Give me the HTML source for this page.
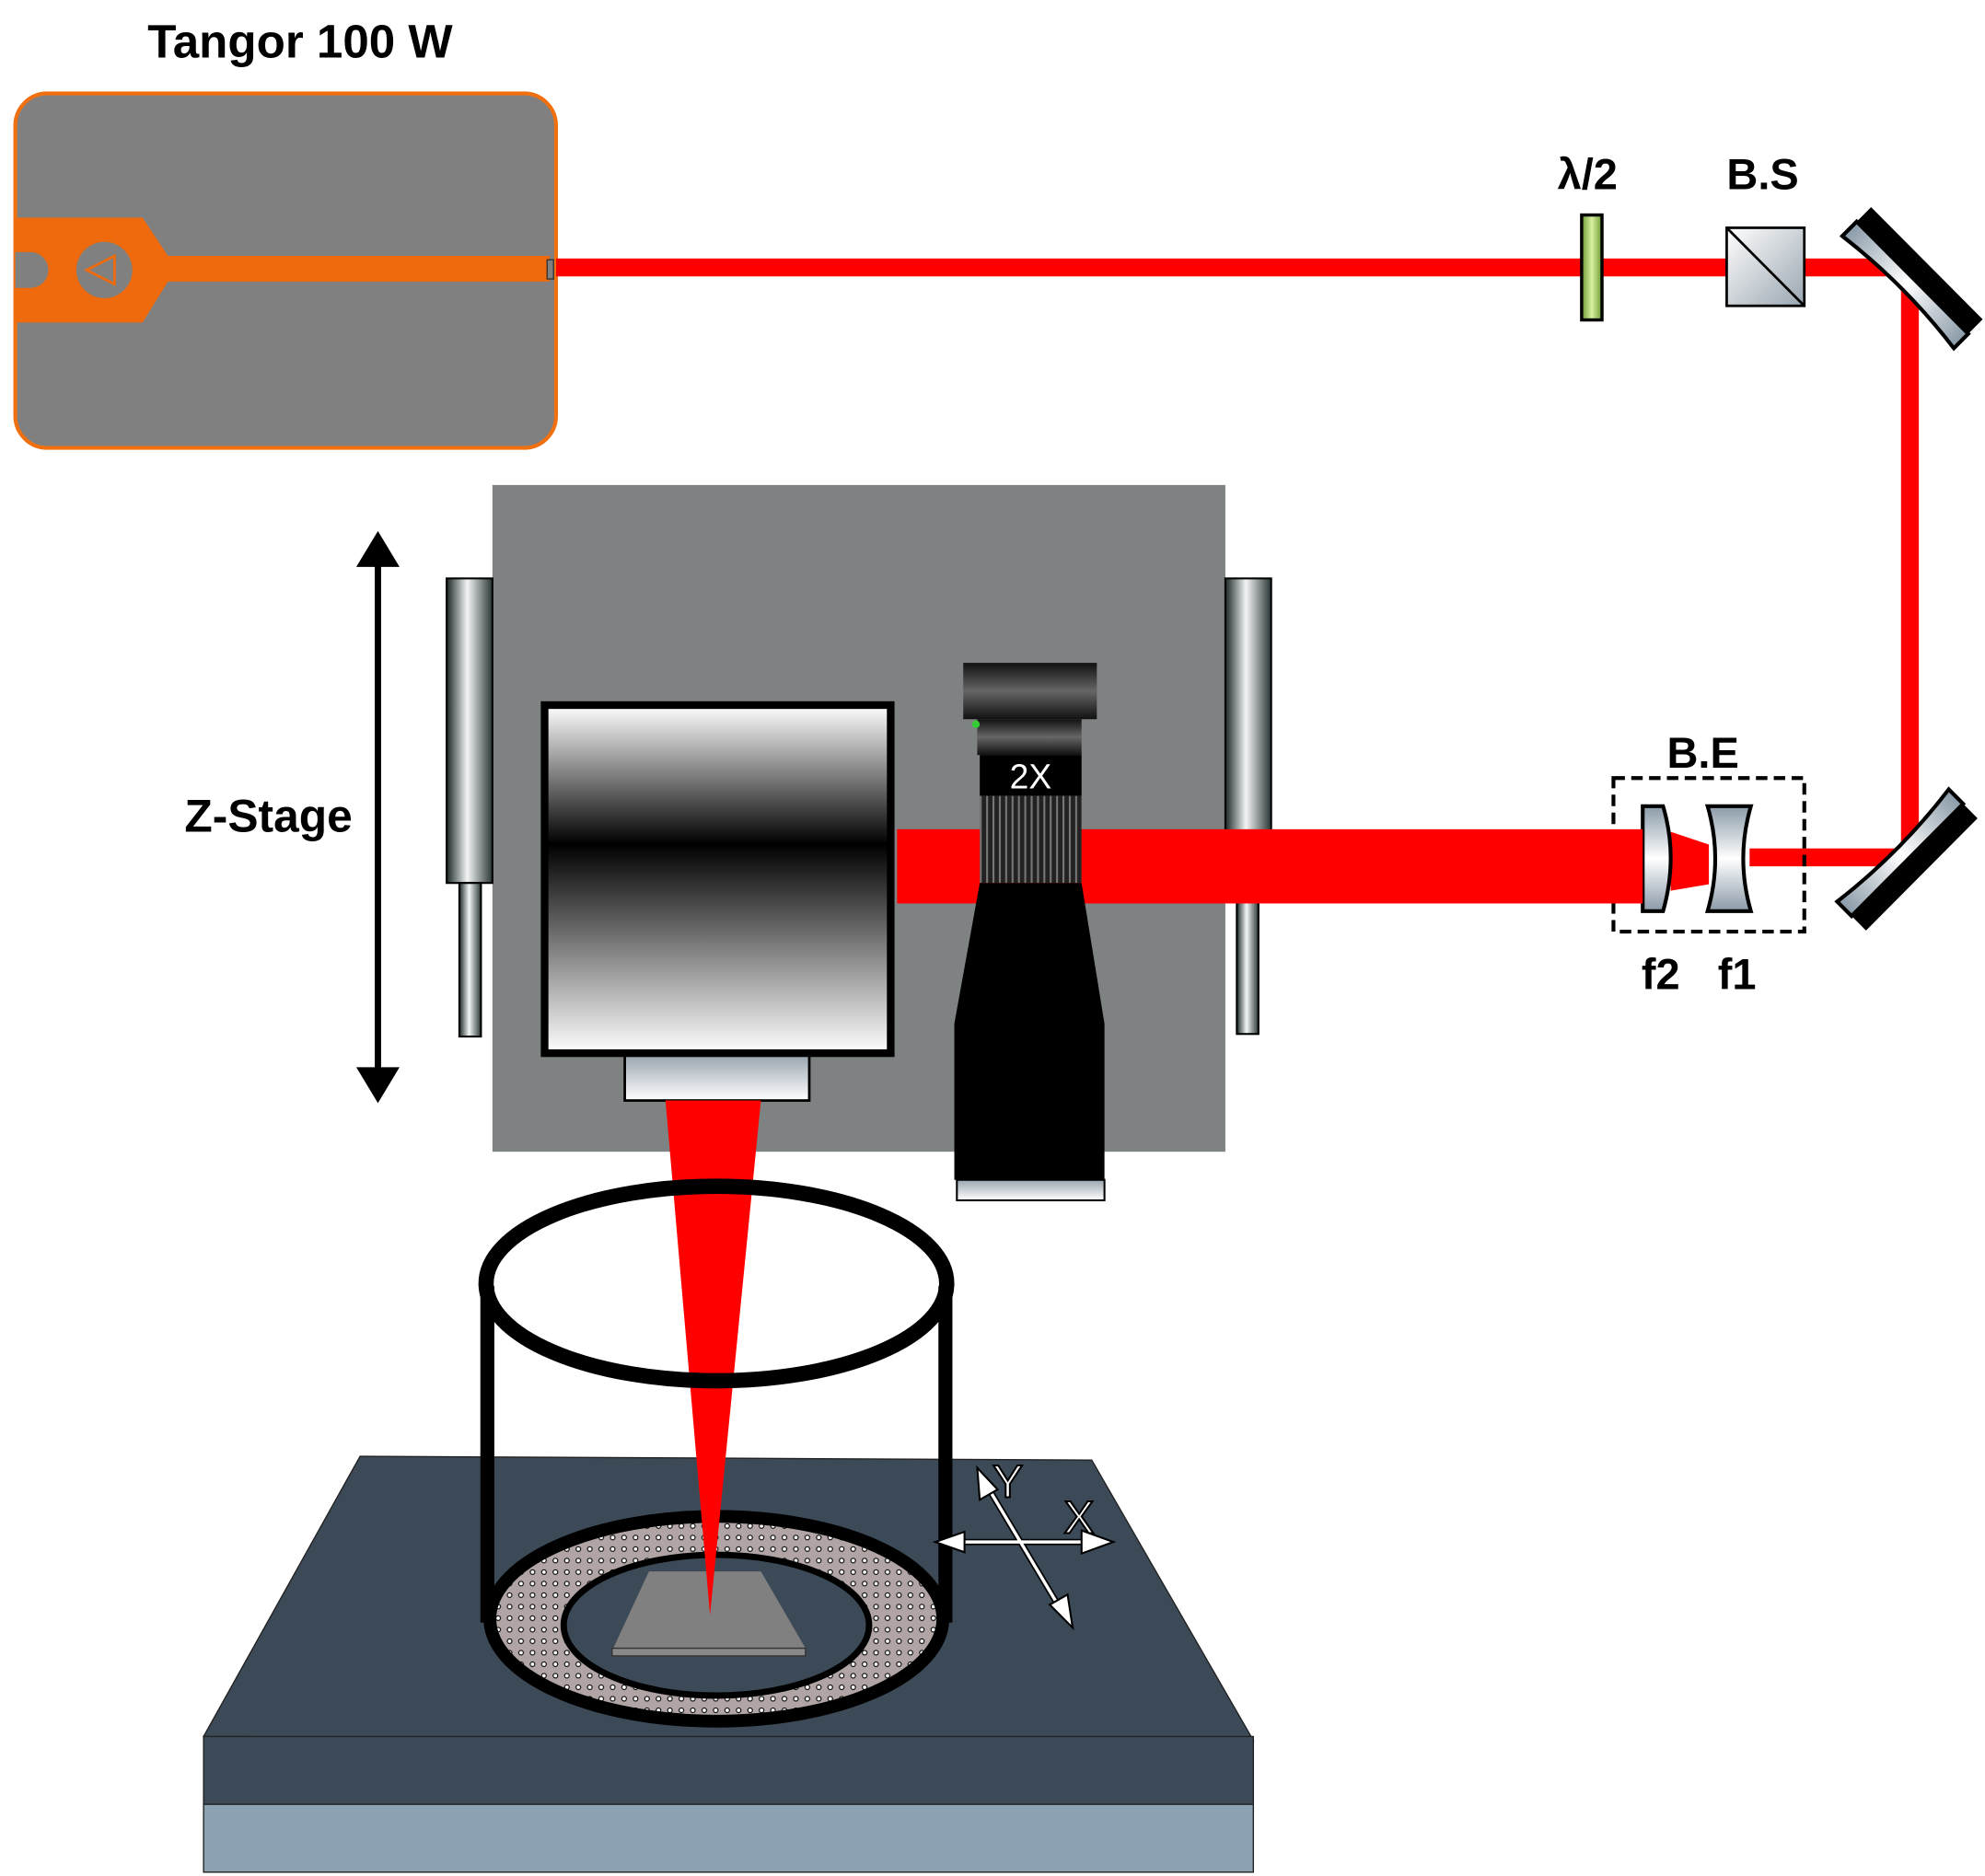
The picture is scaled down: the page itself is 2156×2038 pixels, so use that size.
<!DOCTYPE html>
<html><head><meta charset="utf-8"><style>html,body{margin:0;padding:0;background:#fff}svg{display:block}</style></head>
<body>
<svg width="2156" height="2038" viewBox="0 0 1560 1466" preserveAspectRatio="none" xmlns="http://www.w3.org/2000/svg">
<defs>
<linearGradient id="cyl" x1="0" x2="1" y1="0" y2="0"><stop offset="0" stop-color="#1a2626"/><stop offset="0.45" stop-color="#f4f6f6"/><stop offset="1" stop-color="#2a3636"/></linearGradient>
<linearGradient id="scan" x1="0" x2="0" y1="0" y2="1"><stop offset="0" stop-color="#fff"/><stop offset="0.4" stop-color="#000"/><stop offset="1" stop-color="#fff"/></linearGradient>
<linearGradient id="lensg" x1="0" x2="0" y1="0" y2="1"><stop offset="0" stop-color="#9aa6b0"/><stop offset="1" stop-color="#fff"/></linearGradient>
<linearGradient id="lensv" x1="0" x2="0" y1="0" y2="1"><stop offset="0" stop-color="#8a9aa8"/><stop offset="0.5" stop-color="#fff"/><stop offset="1" stop-color="#8a9aa8"/></linearGradient>
<linearGradient id="mir" x1="0" x2="1" y1="0" y2="0"><stop offset="0" stop-color="#8a9aa8"/><stop offset="0.5" stop-color="#fff"/><stop offset="1" stop-color="#8a9aa8"/></linearGradient>
<linearGradient id="cap" x1="0" x2="0" y1="0" y2="1"><stop offset="0" stop-color="#111"/><stop offset="0.5" stop-color="#666"/><stop offset="1" stop-color="#111"/></linearGradient>
<linearGradient id="green" x1="0" x2="1"><stop offset="0" stop-color="#6a9a30"/><stop offset="0.5" stop-color="#d8f0a0"/><stop offset="1" stop-color="#6a9a30"/></linearGradient>
<linearGradient id="bs" x1="0" x2="1" y1="0" y2="1"><stop offset="0" stop-color="#fff"/><stop offset="1" stop-color="#9aa6b0"/></linearGradient>
<pattern id="dots" width="9" height="9" patternUnits="userSpaceOnUse"><circle cx="4.5" cy="4.5" r="1.8" fill="#fff" stroke="#000" stroke-width="0.8"/></pattern>
<pattern id="knurl" width="5" height="10" patternUnits="userSpaceOnUse"><rect width="5" height="10" fill="#222"/><rect width="1.5" height="10" fill="#777"/></pattern>
</defs>

<text x="116" y="45" font-family="Liberation Sans, sans-serif" font-weight="bold" font-size="37">Tangor 100 W</text>
<rect x="12" y="73" width="425" height="277" rx="25" fill="#808080" stroke="#f07010" stroke-width="3"/>
<polygon points="12,170 112,170 132,200 432,200 432,220 132,220 112,252 12,252" fill="#ee6a0c"/>
<path d="M12,197 h12 a14,14 0 0 1 0,28 h-12 z" fill="#808080"/>
<circle cx="82" cy="211" r="22" fill="#808080"/>
<polygon points="68,211 90,200 90,222" fill="none" stroke="#ee6a0c" stroke-width="2"/>
<rect x="430" y="203" width="5" height="15" fill="#808080" stroke="#333" stroke-width="1"/>

<!-- beams -->
<rect x="437" y="202" width="1070" height="14" fill="#f00"/>
<rect x="1494" y="205" width="14" height="472" fill="#f00"/>
<rect x="1375" y="663" width="130" height="14" fill="#f00"/>
<polygon points="1313,650 1343,660 1343,691 1313,696" fill="#f00"/>

<!-- lambda/2 -->
<text x="1224" y="148" font-family="Liberation Sans, sans-serif" font-weight="bold" font-size="34">λ/2</text>
<rect x="1243" y="168" width="16" height="82" fill="url(#green)" stroke="#000" stroke-width="2.5"/>
<text x="1357" y="148" font-family="Liberation Sans, sans-serif" font-weight="bold" font-size="34">B.S</text>
<rect x="1357" y="178" width="61" height="61" fill="url(#bs)" stroke="#000" stroke-width="2"/>
<line x1="1357" y1="178" x2="1418" y2="239" stroke="#000" stroke-width="2"/>

<!-- mirrors -->
<g transform="translate(1503,217) rotate(45)">
<rect x="-62" y="-16" width="124" height="18" fill="#000"/>
<path d="M-62,0 L62,0 L62,16 Q0,8 -62,16 Z" fill="url(#mir)" stroke="#000" stroke-width="3"/>
</g>
<g transform="translate(1499,672) rotate(-45)">
<rect x="-62" y="-2" width="124" height="18" fill="#000"/>
<path d="M-62,0 L62,0 L62,-16 Q0,-8 -62,-16 Z" fill="url(#mir)" stroke="#000" stroke-width="3"/>
</g>

<!-- beam expander -->
<text x="1310" y="600" font-family="Liberation Sans, sans-serif" font-weight="bold" font-size="34">B.E</text>
<rect x="1268" y="608" width="150" height="120" fill="none" stroke="#000" stroke-width="3" stroke-dasharray="9,5"/>
<path d="M1291,630 h16 q12,40 0,82 h-16 z" fill="url(#lensv)" stroke="#000" stroke-width="3"/>
<path d="M1342,630 h34 q-12,41 0,82 h-34 q12,-41 0,-82 z" fill="url(#lensv)" stroke="#000" stroke-width="3"/>
<text x="1290" y="773" font-family="Liberation Sans, sans-serif" font-weight="bold" font-size="34">f2</text>
<text x="1350" y="773" font-family="Liberation Sans, sans-serif" font-weight="bold" font-size="34">f1</text>

<!-- Z stage -->
<rect x="387" y="379" width="576" height="521" fill="#7f8282"/>
<rect x="351" y="452" width="36" height="238" fill="url(#cyl)" stroke="#000" stroke-width="1.5"/>
<rect x="361" y="690" width="17" height="120" fill="url(#cyl)" stroke="#000" stroke-width="1.5"/>
<rect x="963" y="452" width="36" height="238" fill="url(#cyl)" stroke="#000" stroke-width="1.5"/>
<rect x="972" y="690" width="17" height="118" fill="url(#cyl)" stroke="#000" stroke-width="1.5"/>
<rect x="705" y="648" width="586" height="58" fill="#f00"/>
<line x1="297" y1="440" x2="297" y2="840" stroke="#000" stroke-width="5"/>
<polygon points="297,415 280,443 314,443" fill="#000"/>
<polygon points="297,862 280,834 314,834" fill="#000"/>
<text x="145" y="650" font-family="Liberation Sans, sans-serif" font-weight="bold" font-size="36">Z-Stage</text>

<rect x="428" y="551" width="272" height="272" fill="url(#scan)" stroke="#000" stroke-width="6"/>
<rect x="491" y="825" width="145" height="35" fill="url(#lensg)" stroke="#000" stroke-width="2"/>

<!-- camera -->
<rect x="757" y="518" width="105" height="44" fill="url(#cap)"/>
<rect x="768" y="562" width="82" height="28" fill="url(#cap)"/>
<circle cx="767" cy="566" r="3" fill="#3c3"/>
<rect x="770" y="590" width="80" height="32" fill="#000"/>
<text x="810" y="616" text-anchor="middle" font-family="Liberation Sans, sans-serif" font-size="27" fill="#fff">2X</text>
<rect x="770" y="622" width="80" height="68" fill="url(#knurl)"/>
<polygon points="770,690 850,690 868,800 868,922 750,922 750,800" fill="#000"/>
<rect x="752" y="922" width="116" height="16" fill="url(#lensg)" stroke="#000" stroke-width="1.5"/>

<!-- stage -->
<polygon points="283,1138 858,1141 985,1360 160,1357" fill="#3c4a58" stroke="#222" stroke-width="1"/>
<rect x="160" y="1357" width="825" height="53" fill="#3c4a58" stroke="#222" stroke-width="1"/>
<rect x="160" y="1410" width="825" height="53" fill="#8aa2b2" stroke="#222" stroke-width="1"/>

<!-- beaker -->
<ellipse cx="563" cy="1265" rx="176" ry="77" fill="#b0a4a4"/>
<ellipse cx="563" cy="1265" rx="176" ry="77" fill="url(#dots)"/>
<ellipse cx="563" cy="1270" rx="120" ry="55" fill="#3c4a58" stroke="#000" stroke-width="5"/>
<polygon points="510,1228 598,1228 633,1288 482,1288" fill="#808080"/>
<rect x="481" y="1288" width="152" height="6" fill="#888" stroke="#333" stroke-width="1"/>
<ellipse cx="563" cy="1265" rx="178" ry="80" fill="none" stroke="#000" stroke-width="10"/>
<polygon points="523,860 598,860 558,1262" fill="#f00"/>
<line x1="383" y1="1005" x2="383" y2="1268" stroke="#000" stroke-width="11"/>
<line x1="743" y1="1005" x2="743" y2="1268" stroke="#000" stroke-width="11"/>
<ellipse cx="563" cy="1003" rx="181" ry="76" fill="none" stroke="#000" stroke-width="12"/>

<!-- axes -->
<g stroke="#000" stroke-width="5"><line x1="745" y1="1205" x2="860" y2="1205"/><line x1="775" y1="1160" x2="835" y2="1260"/></g>
<g stroke="#fff" stroke-width="2.5"><line x1="745" y1="1205" x2="860" y2="1205"/><line x1="775" y1="1160" x2="835" y2="1260"/></g>
<polygon points="875,1205 850,1196 850,1214" fill="#fff" stroke="#000" stroke-width="1.5"/>
<polygon points="735,1205 758,1197 758,1213" fill="#fff" stroke="#000" stroke-width="1.5"/>
<polygon points="768,1147 770,1172 784,1164" fill="#fff" stroke="#000" stroke-width="1.5"/>
<polygon points="843,1272 825,1254 839,1246" fill="#fff" stroke="#000" stroke-width="1.5"/>
<text x="780" y="1170" font-family="Liberation Sans, sans-serif" font-size="36" fill="#fff" stroke="#000" stroke-width="1.5">Y</text>
<text x="836" y="1198" font-family="Liberation Sans, sans-serif" font-size="36" fill="#fff" stroke="#000" stroke-width="1.5">X</text>
</svg>
</body></html>
